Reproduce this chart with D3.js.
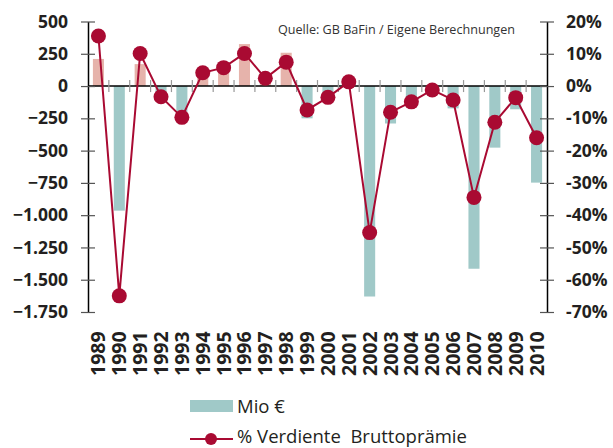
<!DOCTYPE html>
<html>
<head>
<meta charset="utf-8">
<script src="https://cdn.jsdelivr.net/npm/d3@7"></script>
<style>
  body { margin: 0; background: #fff; }
  text { font-family: "Open Sans", "DejaVu Sans", sans-serif; fill: #231f20; }
</style>
</head>
<body>
<div id="chart"></div>
<script>
// data
var years = ["1989","1990","1991","1992","1993","1994","1995","1996","1997","1998","1999",
             "2000","2001","2002","2003","2004","2005","2006","2007","2008","2009","2010"];
var mioEuro = [210, -965, 170, -80, -200, 100, 130, 325, 30, 258, -250,
               -65, 0, -1630, -290, -130, 0, -173, -1415, -477, -180, -748];
var pctBrutto = [15.5, -65, 10.1, -3.3, -9.7, 4.1, 5.7, 10.1, 2.4, 7.4, -7.4,
                 -3.5, 1.3, -45.4, -8.1, -4.9, -1.2, -4.3, -34.5, -11.2, -3.6, -16];
var leftTicks = [500, 250, 0, -250, -500, -750, -1000, -1250, -1500, -1750];
var rightTicks = [20, 10, 0, -10, -20, -30, -40, -50, -60, -70];

var W = 613, H = 448;
var svg = d3.select("#chart").append("svg")
    .attr("width", W)
    .attr("height", H);

var x0 = 88, x1 = 547, yTop = 21.5, yBot = 312;

var x = d3.scaleBand().domain(years).range([x0, x1]).paddingInner(0.47).paddingOuter(0.235);
var xPt = d3.scaleBand().domain(years).range([x0, x1]);
var yL = d3.scaleLinear().domain([-1750, 500]).range([yBot, yTop]);
var yR = d3.scaleLinear().domain([-70, 20]).range([yBot, yTop]);

var teal = "#a0c9c8", pink = "#e6b3ab", red = "#a90a32";

// bars
svg.selectAll(".bar")
    .data(years)
    .enter().append("rect")
    .attr("class", "bar")
    .attr("x", function(d) { return x(d); })
    .attr("width", x.bandwidth())
    .attr("y", function(d, i) { return yL(Math.max(0, mioEuro[i])); })
    .attr("height", function(d, i) { return Math.abs(yL(mioEuro[i]) - yL(0)); })
    .style("fill", function(d, i) { return mioEuro[i] >= 0 ? pink : teal; });

// zero line with category ticks
svg.append("line")
    .attr("x1", x0).attr("x2", x1)
    .attr("y1", yL(0)).attr("y2", yL(0))
    .style("stroke", "#000").style("stroke-width", 1.5);

svg.selectAll(".ctick")
    .data(years.slice(1))
    .enter().append("line")
    .attr("x1", function(d) { return xPt(d); })
    .attr("x2", function(d) { return xPt(d); })
    .attr("y1", yL(0) - 6).attr("y2", yL(0) + 6)
    .style("stroke", "#999").style("stroke-width", 1.2);

// left axis
var gL = svg.append("g").attr("transform", "translate(" + x0 + ",0)")
    .call(d3.axisLeft(yL).tickValues(leftTicks).tickSize(0)
        .tickFormat(function(d) { return d3.format(",")(d).replace(/,/g, "."); }));
gL.select(".domain").style("stroke", "#000").style("stroke-width", 1.5);
gL.selectAll(".tick text")
    .attr("x", -20)
    .style("font-size", "17.5px").style("font-weight", "bold")
    .style("font-family", "'Open Sans', sans-serif").style("fill", "#231f20");
gL.selectAll(".tick").append("line")
    .attr("x1", -7).attr("x2", 7)
    .style("stroke", "#555").style("stroke-width", 1.2);

// right axis
var gR = svg.append("g").attr("transform", "translate(" + x1 + ",0)")
    .call(d3.axisRight(yR).tickValues(rightTicks).tickSize(0)
        .tickFormat(function(d) { return d + "%"; }));
gR.select(".domain").style("stroke", "#000").style("stroke-width", 1.5);
gR.selectAll(".tick text")
    .attr("x", 19)
    .style("font-size", "17.5px").style("font-weight", "bold")
    .style("font-family", "'Open Sans', sans-serif").style("fill", "#231f20");
gR.selectAll(".tick").append("line")
    .attr("x1", -7).attr("x2", 7)
    .style("stroke", "#555").style("stroke-width", 1.2);

// year labels
svg.selectAll(".year")
    .data(years)
    .enter().append("text")
    .attr("class", "year")
    .attr("transform", function(d) {
        return "translate(" + (xPt(d) + xPt.bandwidth() / 2 + 7) + ",376) rotate(-90)";
    })
    .style("font-size", "19.5px").style("font-weight", "bold")
    .text(function(d) { return d; });

// line + markers
var line = d3.line()
    .x(function(d, i) { return xPt(years[i]) + xPt.bandwidth() / 2; })
    .y(function(d) { return yR(d); });

svg.append("path")
    .datum(pctBrutto)
    .attr("d", line)
    .style("fill", "none").style("stroke", red).style("stroke-width", 2);

svg.selectAll(".dot")
    .data(pctBrutto)
    .enter().append("circle")
    .attr("cx", function(d, i) { return xPt(years[i]) + xPt.bandwidth() / 2; })
    .attr("cy", function(d) { return yR(d); })
    .attr("r", 7.5)
    .style("fill", red);

// source note
svg.append("text")
    .attr("x", 278).attr("y", 34)
    .style("font-size", "12.6px")
    .style("fill", "#333")
    .text("Quelle: GB BaFin / Eigene Berechnungen");

// legend
var leg = svg.append("g");
leg.append("rect")
    .attr("x", 190).attr("y", 400).attr("width", 43).attr("height", 12)
    .style("fill", teal);
leg.append("text")
    .attr("x", 237).attr("y", 413)
    .style("font-size", "18.5px")
    .text("Mio €");
leg.append("line")
    .attr("x1", 190).attr("x2", 233).attr("y1", 439).attr("y2", 439)
    .style("stroke", red).style("stroke-width", 2);
leg.append("circle")
    .attr("cx", 211).attr("cy", 439).attr("r", 6)
    .style("fill", red);
leg.append("text")
    .attr("x", 237).attr("y", 443)
    .style("font-size", "18.5px")
    .style("white-space", "pre")
    .text("% Verdiente  Bruttoprämie");
</script>
</body>
</html>
